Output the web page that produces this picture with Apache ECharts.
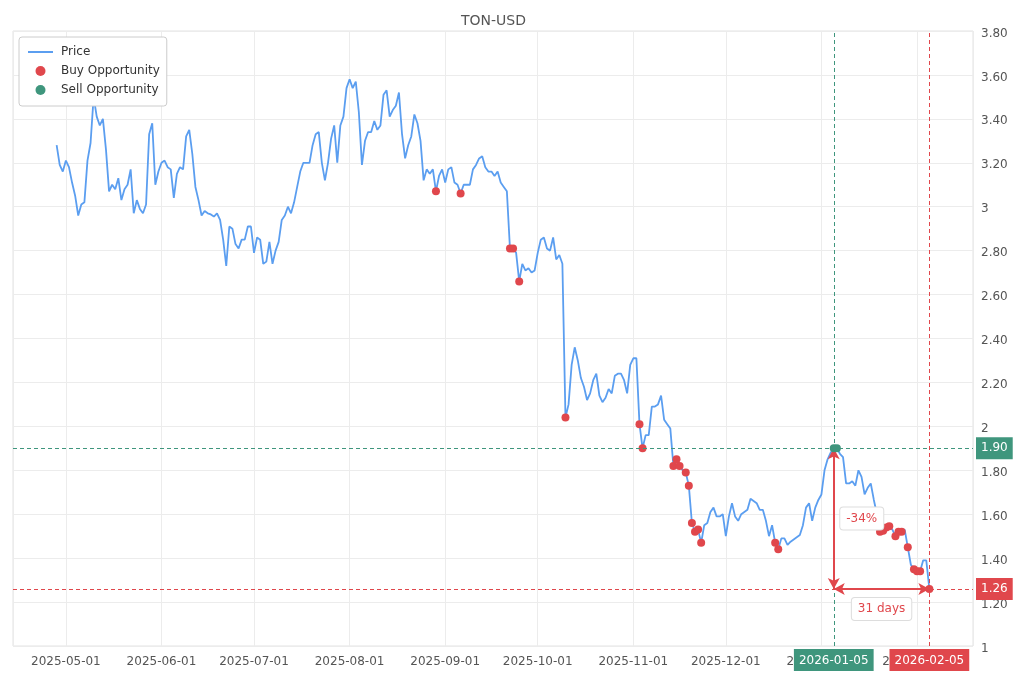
<!DOCTYPE html>
<html>
<head>
<meta charset="utf-8">
<title>TON-USD</title>
<script src="https://cdn.jsdelivr.net/npm/echarts@6/dist/echarts.min.js"></script>
<style>
  html, body { margin: 0; padding: 0; background: #fff; }
  #chart { width: 1020px; height: 680px; }
</style>
</head>
<body>
<div id="chart"></div>
<script>
// daily closes, first day 2025-04-28
var startDay = [2025, 4, 28];
var prices = [
    3.28, 3.19, 3.16, 3.21, 3.18, 3.11, 3.05, 2.96, 3.01, 3.02,
    3.21, 3.29, 3.50, 3.41, 3.37, 3.40, 3.26, 3.07, 3.10, 3.08,
    3.13, 3.03, 3.08, 3.10, 3.17, 2.97, 3.03, 2.99, 2.97, 3.01,
    3.33, 3.38, 3.10, 3.16, 3.20, 3.21, 3.18, 3.17, 3.04, 3.15,
    3.18, 3.17, 3.32, 3.35, 3.24, 3.09, 3.03, 2.96, 2.98, 2.97,
    2.965, 2.955, 2.97, 2.94, 2.85, 2.73, 2.91, 2.90, 2.83, 2.81,
    2.85, 2.85, 2.91, 2.91, 2.79, 2.86, 2.85, 2.74, 2.75, 2.84,
    2.74, 2.80, 2.84, 2.94, 2.96, 3.00, 2.97, 3.02, 3.09, 3.16,
    3.20, 3.20, 3.20, 3.28, 3.33, 3.34, 3.20, 3.12, 3.20, 3.31,
    3.37, 3.20, 3.37, 3.41, 3.54, 3.58, 3.54, 3.57, 3.43, 3.19,
    3.30, 3.34, 3.34, 3.39, 3.35, 3.37, 3.51, 3.53, 3.41, 3.44,
    3.46, 3.52, 3.33, 3.22, 3.28, 3.32, 3.42, 3.38, 3.30, 3.12,
    3.17, 3.15, 3.17, 3.07, 3.14, 3.17, 3.11, 3.17, 3.18, 3.11,
    3.10, 3.06, 3.10, 3.10, 3.10, 3.17, 3.19, 3.22, 3.23, 3.18,
    3.16, 3.16, 3.14, 3.16, 3.11, 3.09, 3.07, 2.81, 2.81, 2.79,
    2.66, 2.74, 2.71, 2.72, 2.70, 2.71, 2.79, 2.85, 2.86, 2.81,
    2.80, 2.86, 2.76, 2.78, 2.74, 2.04, 2.10, 2.28, 2.36, 2.30,
    2.22, 2.18, 2.12, 2.15, 2.21, 2.24, 2.14, 2.11, 2.13, 2.17,
    2.15, 2.23, 2.24, 2.24, 2.21, 2.15, 2.28, 2.31, 2.31, 2.01,
    1.90, 1.96, 1.96, 2.09, 2.09, 2.10, 2.14, 2.03, 2.01, 1.99,
    1.82, 1.85, 1.82, 1.80, 1.79, 1.73, 1.56, 1.52, 1.53, 1.47,
    1.55, 1.56, 1.61, 1.63, 1.59, 1.59, 1.60, 1.50, 1.59, 1.65,
    1.59, 1.57, 1.60, 1.61, 1.62, 1.67, 1.66, 1.65, 1.62, 1.62,
    1.57, 1.50, 1.55, 1.47, 1.44, 1.49, 1.49, 1.46, 1.475, 1.485,
    1.495, 1.505, 1.55, 1.63, 1.65, 1.57, 1.63, 1.665, 1.69, 1.80,
    1.85, 1.88, 1.90, 1.90, 1.875, 1.86, 1.74, 1.74, 1.75, 1.73,
    1.80, 1.77, 1.69, 1.72, 1.74, 1.665, 1.60, 1.52, 1.525, 1.54,
    1.545, 1.53, 1.50, 1.52, 1.52, 1.53, 1.45, 1.37, 1.35, 1.34,
    1.34, 1.39, 1.39, 1.26
];

var buyDates = [
    "2025-08-29", "2025-09-06", "2025-09-22", "2025-09-23", "2025-09-25",
    "2025-10-10", "2025-11-03", "2025-11-04", "2025-11-14", "2025-11-15",
    "2025-11-16", "2025-11-18", "2025-11-19", "2025-11-20", "2025-11-21",
    "2025-11-22", "2025-11-23", "2025-12-17", "2025-12-18", "2026-01-20",
    "2026-01-21", "2026-01-22", "2026-01-23", "2026-01-25", "2026-01-26",
    "2026-01-27", "2026-01-29", "2026-01-31", "2026-02-01", "2026-02-02",
    "2026-02-05"
];
var sellDates = ["2026-01-05", "2026-01-06"];

// the trade that is marked
var entryDate = "2026-01-05";
var exitDate = "2026-02-05";

var GREEN = "#3f967d";
var RED = "#e0474c";
var BLUE = "#5b9ef0";
var FONT = "DejaVu Sans";

var pad = function (n) { return n < 10 ? "0" + n : "" + n; };
var fmtDay = function (d) {
    return d.getFullYear() + "-" + pad(d.getMonth() + 1) + "-" + pad(d.getDate());
};

var dates = [];
for (var i = 0; i < prices.length; i++) {
    dates.push(fmtDay(new Date(startDay[0], startDay[1] - 1, startDay[2] + i)));
}
var priceOf = function (d) { return prices[dates.indexOf(d)]; };

var entryPrice = priceOf(entryDate);
var exitPrice = priceOf(exitDate);
var change = Math.round((exitPrice - entryPrice) / entryPrice * 100);
var dayMs = 86400000;
var t0 = +new Date(startDay[0], startDay[1] - 1, startDay[2]);
var t1 = t0 + (prices.length - 1) * dayMs;
var tEntry = t0 + dates.indexOf(entryDate) * dayMs;
var tExit = t0 + dates.indexOf(exitDate) * dayMs;
var holdDays = Math.round((tExit - tEntry) / dayMs);
var span = t1 - t0;

var myChart = echarts.init(document.getElementById("chart"), null, { renderer: "canvas" });

var boxLabel = function (text, color, pos) {
    return {
        show: true,
        position: pos,
        formatter: text,
        color: "#fff",
        backgroundColor: color,
        padding: [6, 5, 4, 5],
        fontSize: 12,
        fontFamily: FONT,
        distance: 3
    };
};

var option = {
    animation: false,
    textStyle: { fontFamily: FONT },
    title: {
        text: "TON-USD",
        left: 456,
        top: 9,
        textStyle: { fontSize: 14, fontWeight: "normal", color: "#555", fontFamily: FONT }
    },
    legend: {
        data: [
            { name: "Price", itemStyle: { opacity: 0 } },
            "Buy Opportunity",
            "Sell Opportunity"
        ],
        orient: "vertical",
        left: 19,
        top: 37,
        padding: [9, 7, 10, 8],
        itemWidth: 25,
        itemHeight: 10,
        itemGap: 7,
        backgroundColor: "#fff",
        borderColor: "#ccc",
        borderWidth: 1,
        borderRadius: 3,
        textStyle: { fontSize: 12, color: "#333", fontFamily: FONT, padding: [2, 0, 0, 3] }
    },
    grid: {
        left: 13,
        right: 47,
        top: 31,
        bottom: 34,
        show: true,
        borderColor: "#e2e2e2",
        borderWidth: 1
    },
    xAxis: {
        type: "time",
        min: t0 - span * 0.05,
        max: t1 + span * 0.05,
        splitNumber: 10,
        axisLine: { show: false },
        axisTick: { show: false },
        axisLabel: {
            color: "#555",
            fontSize: 12,
            fontFamily: FONT,
            margin: 10,
            showMinLabel: false,
            showMaxLabel: false,
            formatter: function (v) { return fmtDay(new Date(v)); }
        },
        splitLine: { show: true, lineStyle: { color: "#ececec" } }
    },
    yAxis: {
        type: "value",
        position: "right",
        min: 1,
        max: 3.8,
        interval: 0.2,
        axisLine: { show: false },
        axisTick: { show: false },
        axisLabel: {
            color: "#555",
            fontSize: 12,
            fontFamily: FONT,
            margin: 8,
            verticalAlign: "top",
            lineHeight: 5,
            formatter: function (v) {
                return Math.abs(v - Math.round(v)) < 1e-9 ? String(Math.round(v)) : v.toFixed(2);
            }
        },
        splitLine: { show: true, lineStyle: { color: "#ececec" } }
    },
    series: [
        {
            name: "Price",
            type: "line",
            data: dates.map(function (d, k) { return [d, prices[k]]; }),
            symbol: "none",
            lineStyle: { color: BLUE, width: 1.8 },
            itemStyle: { color: BLUE },
            z: 2,
            markLine: {
                silent: true,
                symbol: "none",
                animation: false,
                lineStyle: { type: [4, 3], width: 1 },
                data: [
                    { yAxis: entryPrice, lineStyle: { color: GREEN }, label: boxLabel(entryPrice.toFixed(2), GREEN, "end") },
                    { yAxis: exitPrice, lineStyle: { color: RED }, label: boxLabel(exitPrice.toFixed(2), RED, "end") },
                    { xAxis: tEntry, lineStyle: { color: GREEN }, label: boxLabel(entryDate, GREEN, "start") },
                    { xAxis: tExit, lineStyle: { color: RED }, label: boxLabel(exitDate, RED, "start") }
                ]
            }
        },
        {
            name: "Buy Opportunity",
            type: "scatter",
            data: buyDates.map(function (d) { return [d, priceOf(d)]; }),
            symbolSize: 8,
            itemStyle: { color: RED, opacity: 1 },
            z: 4
        },
        {
            name: "Sell Opportunity",
            type: "scatter",
            data: sellDates.map(function (d) { return [d, priceOf(d)]; }),
            symbolSize: 8,
            itemStyle: { color: GREEN, opacity: 1 },
            z: 5
        },
        {
            name: "trade",
            type: "line",
            data: [],
            z: 3,
            markLine: {
                silent: true,
                symbol: ["arrow", "arrow"],
                symbolSize: [9, 11],
                animation: false,
                lineStyle: { color: RED, type: "solid", width: 2 },
                label: { show: false },
                data: [
                    [{ coord: [tEntry, entryPrice] }, { coord: [tEntry, exitPrice] }],
                    [{ coord: [tEntry, exitPrice] }, { coord: [tExit, exitPrice] }]
                ]
            },
            markPoint: {
                silent: true,
                symbol: "rect",
                symbolSize: 0,
                animation: false,
                label: {
                    show: true,
                    position: "inside",
                    color: RED,
                    fontSize: 12,
                    fontFamily: FONT,
                    backgroundColor: "#fff",
                    borderColor: "#ddd",
                    borderWidth: 1,
                    borderRadius: 3,
                    padding: [6, 6, 4, 6]
                },
                data: [
                    { coord: [tEntry, (entryPrice + exitPrice) / 2], value: change + "%", label: { formatter: change + "%", offset: [28, 0] } },
                    { coord: [(tEntry + tExit) / 2, exitPrice], value: holdDays, label: { formatter: holdDays + " days", offset: [0, 20] } }
                ]
            }
        }
    ]
};

myChart.setOption(option);
window.addEventListener("resize", function () {
    myChart.resize();
});
</script>
</body>
</html>
